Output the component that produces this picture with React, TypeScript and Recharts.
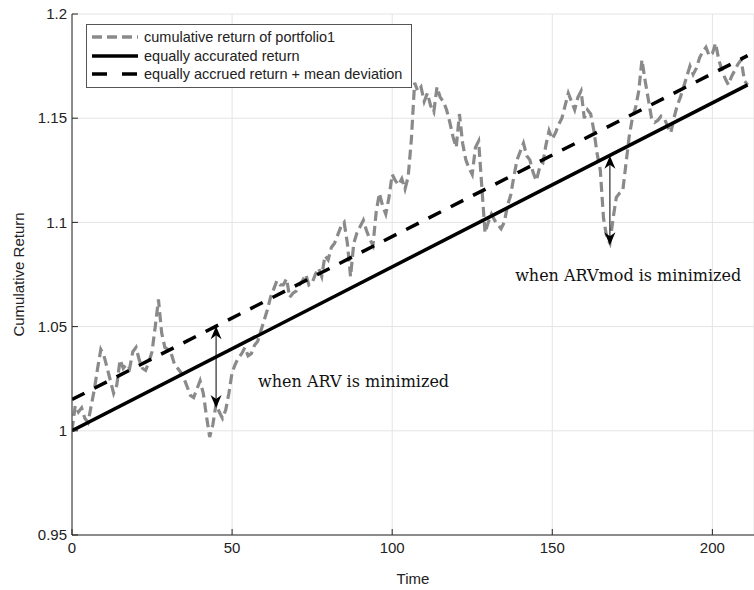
import React from 'react';
import {
  LineChart,
  Line,
  XAxis,
  YAxis,
  CartesianGrid,
  ReferenceLine,
  ReferenceDot,
  Legend,
  Label,
} from 'recharts';

// ---------------- data ----------------
const portfolioReturn = [
  1.000, 1.012, 1.009, 1.011, 1.006, 1.004, 1.012, 1.020, 1.030, 1.039,
  1.036, 1.030, 1.024, 1.018, 1.022, 1.034, 1.030, 1.032, 1.030, 1.038,
  1.040, 1.034, 1.030, 1.029, 1.033, 1.038, 1.050, 1.063, 1.047, 1.040,
  1.039, 1.037, 1.032, 1.030, 1.028, 1.025, 1.021, 1.017, 1.016, 1.020,
  1.024, 1.018, 1.007, 0.997, 1.003, 1.013, 1.009, 1.006, 1.010, 1.018,
  1.028, 1.032, 1.035, 1.037, 1.040, 1.036, 1.037, 1.041, 1.043, 1.048,
  1.053, 1.058, 1.064, 1.068, 1.072, 1.070, 1.070, 1.073, 1.064, 1.066,
  1.067, 1.070, 1.072, 1.075, 1.070, 1.071, 1.075, 1.078, 1.074, 1.084,
  1.082, 1.088, 1.090, 1.094, 1.098, 1.100, 1.090, 1.074, 1.090, 1.095,
  1.098, 1.101, 1.096, 1.092, 1.089, 1.105, 1.114, 1.108, 1.104, 1.112,
  1.123, 1.120, 1.118, 1.121, 1.116, 1.122, 1.140, 1.167, 1.163, 1.165,
  1.158, 1.162, 1.156, 1.153, 1.165, 1.160, 1.158, 1.154, 1.148, 1.141,
  1.136, 1.152, 1.138, 1.130, 1.126, 1.123, 1.136, 1.139, 1.117, 1.095,
  1.100, 1.104, 1.101, 1.099, 1.097, 1.100, 1.108, 1.113, 1.122, 1.130,
  1.134, 1.138, 1.132, 1.130, 1.124, 1.120, 1.126, 1.128, 1.137, 1.144,
  1.140, 1.143, 1.147, 1.150, 1.156, 1.162, 1.158, 1.154, 1.160, 1.163,
  1.150, 1.154, 1.152, 1.144, 1.133, 1.125, 1.102, 1.093, 1.090, 1.102,
  1.112, 1.114, 1.115, 1.128, 1.141, 1.150, 1.155, 1.163, 1.178, 1.168,
  1.159, 1.150, 1.148, 1.149, 1.151, 1.150, 1.146, 1.143, 1.150, 1.156,
  1.160, 1.165, 1.170, 1.175, 1.171, 1.174, 1.179, 1.182, 1.184, 1.180,
  1.181, 1.186, 1.178, 1.173, 1.169, 1.166, 1.170, 1.173, 1.176, 1.178,
  1.168, 1.166,
];

const equalLineTimes = [0, 211];
const equalLineValues = [1.0, 1.166];
const deviationLineValues = [1.015, 1.18];

const xTicks = [0, 50, 100, 150, 200];
const yTicks = [0.95, 1, 1.05, 1.1, 1.15, 1.2];

// annotation arrows: [time, top value, bottom value]
const arrowARV = [45, 1.0502, 1.011];
const arrowARVmod = [168, 1.132, 1.089];
const textARV = { t: 58.1, v: 1.0236, label: 'when ARV is minimized' };
const textARVmod = { t: 138.4, v: 1.0748, label: 'when ARVmod is minimized' };

const seriesNames = [
  'cumulative return of portfolio1',
  'equally accurated return',
  'equally accrued return + mean deviation',
];

// ---------------- build tables ----------------
const portfolioData = portfolioReturn.map((v, i) => ({ t: i, v }));
const equalData = equalLineTimes.map((t, i) => ({ t, v: equalLineValues[i] }));
const deviationData = equalLineTimes.map((t, i) => ({ t, v: deviationLineValues[i] }));

const SANS = '"Liberation Sans", Arial, Helvetica, sans-serif';
const SERIF = '"DejaVu Serif", "Liberation Serif", serif';
const AXIS = '#262626';
const GRAY = '#8a8a8a';

const XTick = (props: any) => {
  const { x, y, payload } = props;
  return (
    <g>
      <line x1={x} y1={y} x2={x} y2={y - 6} stroke={AXIS} strokeWidth={1} />
      <text x={x} y={y + 18} textAnchor="middle" fontFamily={SANS} fontSize={15} fill="#222">
        {payload.value}
      </text>
    </g>
  );
};

const YTick = (props: any) => {
  const { x, y, payload } = props;
  return (
    <g>
      <line x1={x} y1={y} x2={x + 6} y2={y} stroke={AXIS} strokeWidth={1} />
      <text x={x - 5} y={y} dy="0.35em" textAnchor="end" fontFamily={SANS} fontSize={15} fill="#222">
        {String(payload.value)}
      </text>
    </g>
  );
};

const DoubleArrow = (props: any) => {
  const { x1, y1, x2, y2 } = props;
  const top = Math.min(y1, y2);
  const bot = Math.max(y1, y2);
  const x = x1;
  const L = 13;
  const W = 5.5;
  const N = 9;
  return (
    <g>
      <line x1={x} y1={top + 5} x2={x2} y2={bot - 5} stroke="#000" strokeWidth={1} />
      <path d={`M${x},${top} L${x - W},${top + L} L${x},${top + N} L${x + W},${top + L} Z`} fill="#000" />
      <path d={`M${x},${bot} L${x - W},${bot - L} L${x},${bot - N} L${x + W},${bot - L} Z`} fill="#000" />
    </g>
  );
};

const makeTextShape = (label: string) => (props: any) => {
  const { cx, cy } = props;
  return (
    <text x={cx} y={cy} dy="0.35em" textAnchor="start" fontFamily={SERIF} fontSize={16} fill="#111">
      {label}
    </text>
  );
};

const LegendBox = () => {
  const rows = [
    { stroke: GRAY, dash: '10 5', width: 3.5 },
    { stroke: '#000', dash: undefined, width: 3.5 },
    { stroke: '#000', dash: '15 15', width: 3.5 },
  ];
  return (
    <div
      style={{
        border: '1px solid #555',
        background: '#fff',
        padding: '3px 6px 3px 5px',
        width: 326,
        boxSizing: 'border-box',
      }}
    >
      {rows.map((r, i) => (
        <div key={i} style={{ display: 'flex', alignItems: 'center', height: 18.5 }}>
          <svg width={46} height={10} style={{ display: 'block' }}>
            <line x1={0} y1={5} x2={46} y2={5} stroke={r.stroke} strokeWidth={r.width} strokeDasharray={r.dash} />
          </svg>
          <span style={{ fontFamily: SANS, fontSize: 14.5, color: '#222', marginLeft: 6, whiteSpace: 'nowrap' }}>
            {seriesNames[i]}
          </span>
        </div>
      ))}
    </div>
  );
};

export default function App() {
  return (
    <div style={{ position: 'absolute', left: 0, top: 0, width: 754, height: 590, background: '#fff' }}>
      <LineChart width={754} height={590} margin={{ top: 14, right: 0, bottom: 0, left: 12 }}>
        <CartesianGrid stroke="#e4e4e4" strokeWidth={1} />
        <XAxis
          type="number"
          dataKey="t"
          domain={[0, 213]}
          ticks={xTicks}
          allowDataOverflow
          height={55}
          stroke={AXIS}
          tickLine={false}
          tickSize={0}
          tickMargin={0}
          tick={<XTick />}
          label={
            <Label
              content={(p: any) => {
                const vb = p.viewBox;
                return (
                  <text x={vb.x + vb.width / 2} y={vb.y + 44} dy="0.35em" textAnchor="middle" fontFamily={SANS} fontSize={15} fill="#222">
                    Time
                  </text>
                );
              }}
            />
          }
        />
        <YAxis
          type="number"
          dataKey="v"
          domain={[0.95, 1.2]}
          ticks={yTicks}
          allowDataOverflow
          width={60}
          stroke={AXIS}
          tickLine={false}
          tickSize={0}
          tickMargin={0}
          tick={<YTick />}
          label={
            <Label
              content={(p: any) => {
                const vb = p.viewBox;
                const cx = vb.x + 7;
                const cy = vb.y + vb.height / 2;
                return (
                  <text x={cx} y={cy} dy="0.35em" textAnchor="middle" transform={`rotate(-90 ${cx} ${cy})`} fontFamily={SANS} fontSize={15} fill="#222">
                    Cumulative Return
                  </text>
                );
              }}
            />
          }
        />
        <Legend
          verticalAlign="middle"
          layout="horizontal"
          content={() => <LegendBox />}
          wrapperStyle={{ position: 'absolute', left: 86, top: 24, width: 'auto' }}
        />
        <Line
          data={portfolioData}
          dataKey="v"
          type="linear"
          stroke={GRAY}
          strokeWidth={3.2}
          strokeDasharray="10 5"
          dot={false}
          isAnimationActive={false}
          name={seriesNames[0]}
        />
        <Line
          data={equalData}
          dataKey="v"
          type="linear"
          stroke="#000"
          strokeWidth={3.5}
          dot={false}
          isAnimationActive={false}
          name={seriesNames[1]}
        />
        <Line
          data={deviationData}
          dataKey="v"
          type="linear"
          stroke="#000"
          strokeWidth={3.5}
          strokeDasharray="14 11"
          dot={false}
          isAnimationActive={false}
          name={seriesNames[2]}
        />
        <ReferenceLine
          segment={[
            { x: arrowARV[0], y: arrowARV[1] },
            { x: arrowARV[0], y: arrowARV[2] },
          ]}
          shape={DoubleArrow}
        />
        <ReferenceLine
          segment={[
            { x: arrowARVmod[0], y: arrowARVmod[1] },
            { x: arrowARVmod[0], y: arrowARVmod[2] },
          ]}
          shape={DoubleArrow}
        />
        <ReferenceDot x={textARV.t} y={textARV.v} r={0} shape={makeTextShape(textARV.label)} />
        <ReferenceDot x={textARVmod.t} y={textARVmod.v} r={0} shape={makeTextShape(textARVmod.label)} />
      </LineChart>
    </div>
  );
}
